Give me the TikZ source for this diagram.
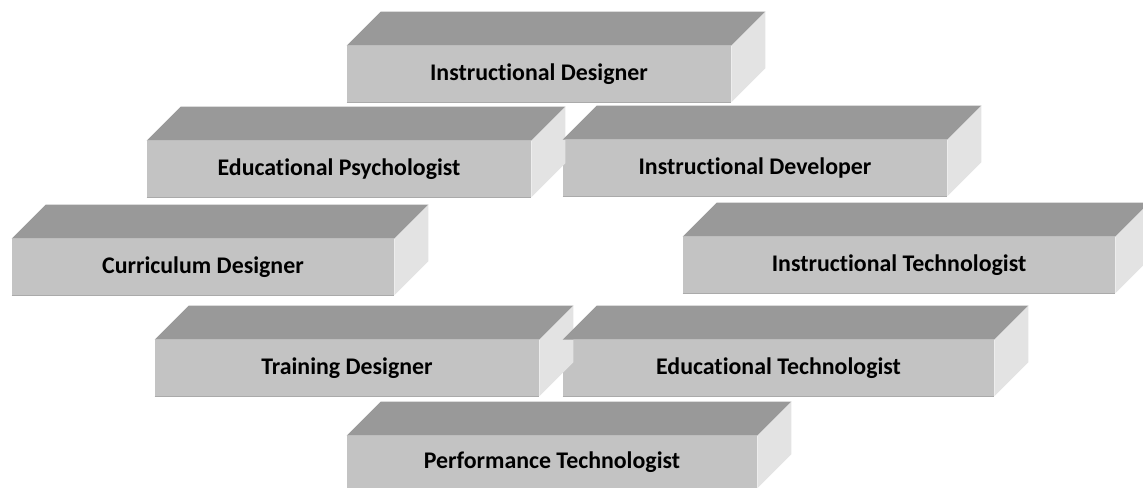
\documentclass[tikz,border=0pt]{standalone}
\usepackage{fontspec}
\setmainfont{Carlito}[Ligatures=NoCommon]
\definecolor{topgray}{RGB}{153, 153, 153}
\definecolor{frontgray}{RGB}{195, 195, 195}
\definecolor{sidegray}{RGB}{227, 227, 227}
\definecolor{edgegray}{RGB}{170, 170, 170}
\usetikzlibrary{calc}

\begin{document}
\begin{tikzpicture}[x=0.75pt, y=-0.75pt,
  rolebox/.style={rectangle, fill=frontgray, inner sep=0pt, minimum height=42pt,
    font=\fontsize{17.9}{21}\bfseries\selectfont}]
  \useasboundingbox (0,0) rectangle (1143,488);

  \node[rolebox, minimum width=288pt] (designer) at (539,74) {Instructional Designer};
  \node[rolebox, minimum width=288pt] (psych) at (339,169) {Educational Psychologist};
  \node[rolebox, minimum width=288pt] (developer) at (755,168) {Instructional Developer};
  \node[rolebox, minimum width=286.5pt] (curriculum) at (203,267) {Curriculum Designer};
  \node[rolebox, minimum width=324pt] (insttech) at (899,265) {Instructional Technologist};
  \node[rolebox, minimum width=288pt] (training) at (347,368) {Training Designer};
  \node[rolebox, minimum width=323.25pt] (edutech) at (778.5,368) {Educational Technologist};
  \node[rolebox, minimum width=307.5pt, minimum height=39pt] (perftech) at (552,462) {Performance Technologist};

  % top and right faces of each block
  \foreach \n in {designer, psych, developer, curriculum, insttech, training, edutech, perftech} {
    \fill[topgray] (\n.north west) -- ++(34,-34) -- ($(\n.north east)+(34,-34)$) -- (\n.north east) -- cycle;
    \fill[sidegray] (\n.north east) -- ++(34,-34) -- ($(\n.south east)+(34,-34)$) -- (\n.south east) -- cycle;
    \draw[edgegray, line width=1pt] (\n.south west) -- (\n.south east);
  }
\end{tikzpicture}
\end{document}
